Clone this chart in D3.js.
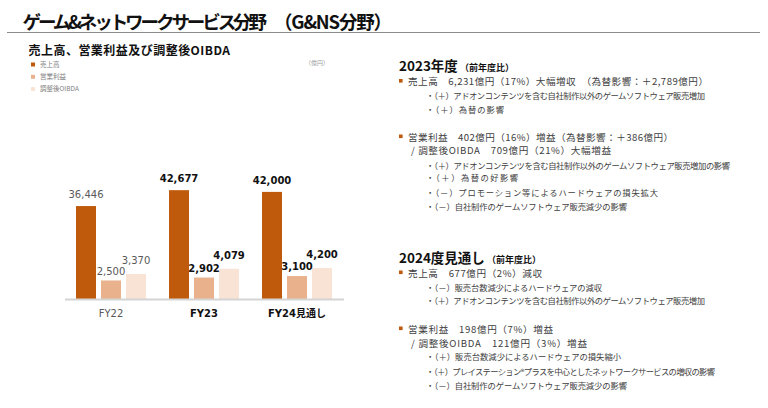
<!DOCTYPE html>
<html><head><meta charset="utf-8">
<script src="https://cdn.jsdelivr.net/npm/d3@7"></script>
<style>
body{margin:0;background:#fff}
svg{display:block}
text{font-family:"Noto Sans CJK JP","Noto Sans",sans-serif}
</style>
</head><body>
<svg width="768" height="408"></svg>
<script>
// ---------- data ----------
const categories = ["FY22", "FY23", "FY24見通し"];
const seriesNames = ["売上高", "営業利益", "調整後OIBDA"];
const revenue = [36446, 42677, 42000];
const opIncome = [2500, 2902, 3100];
const oibda = [3370, 4079, 4200];
const unitLabel = "（億円）";
const titleParts = ["ゲーム&ネットワークサービス分野", "（G&NS分野）"];
const subtitleText = "売上高、営業利益及び調整後OIBDA";
const head2023 = ["2023年度", "（前年度比）"];
const head2024 = ["2024度見通し", "（前年度比）"];
const lines2023 = [
  {t:"main", s:"売上高　6,231億円（17%）大幅増収　（為替影響：＋2,789億円）", end:708},
  {t:"sub", s:"・（＋）アドオンコンテンツを含む自社制作以外のゲームソフトウェア販売増加", end:705},
  {t:"sub", s:"・（＋）為替の影響", end:504},
  {t:"main", s:"営業利益　402億円（16%）増益（為替影響：＋386億円）", end:673},
  {t:"slash", s:"/ 調整後OIBDA　709億円（21%）大幅増益", end:611},
  {t:"sub", s:"・（＋）アドオンコンテンツを含む自社制作以外のゲームソフトウェア販売増加の影響", end:730},
  {t:"sub", s:"・（＋）為替の好影響", end:518},
  {t:"sub", s:"・（－）プロモーション等によるハードウェアの損失拡大", end:658},
  {t:"sub", s:"・（－）自社制作のゲームソフトウェア販売減少の影響", end:627}
];
const lines2024 = [
  {t:"main", s:"売上高　677億円（2%）減収", end:542},
  {t:"sub", s:"・（－）販売台数減少によるハードウェアの減収", end:602},
  {t:"sub", s:"・（＋）アドオンコンテンツを含む自社制作以外のゲームソフトウェア販売増加", end:705},
  {t:"main", s:"営業利益　198億円（7%）増益", end:553},
  {t:"slash", s:"/ 調整後OIBDA　121億円（3%）増益", end:587},
  {t:"sub", s:"・（＋）販売台数減少によるハードウェアの損失縮小", end:621},
  {t:"sub", s:"・（＋）プレイステーション®プラスを中心としたネットワークサービスの増収の影響", end:715},
  {t:"sub", s:"・（－）自社制作のゲームソフトウェア販売減少の影響", end:627}
];
const baselines2023 = [85, 98.5, 113, 140.5, 153.5, 168.5, 181, 196, 209.5];
const baselines2024 = [276.5, 291, 304, 332.5, 346.5, 360, 375, 388.5];

const colors = ["#BF5A0C", "#E9B28D", "#F8E3D4"];

const svg = d3.select("svg");

function fit(sel, target) {
  sel.each(function () {
    const n = this.getNumberOfChars();
    const w = this.getComputedTextLength();
    const x0 = +this.getAttribute("x");
    const ls = (target - x0 - w) / Math.max(1, n - 1);
    d3.select(this).style("letter-spacing", ls + "px");
  });
}

// ---------- title ----------
svg.append("text").attr("x", 22.5).attr("y", 29)
  .attr("font-size", 18.5).attr("font-weight", 700).attr("fill", "#111")
  .text(titleParts[0]).call(fit, 267);
svg.append("text").attr("x", 274).attr("y", 29)
  .attr("font-size", 18.5).attr("font-weight", 700).attr("fill", "#111")
  .text(titleParts[1]).call(fit, 392);
svg.append("line").attr("x1", 7).attr("x2", 760).attr("y1", 32.5).attr("y2", 32.5)
  .attr("stroke", "#8c8c8c").attr("stroke-width", 1.2);

svg.append("text").attr("x", 28.5).attr("y", 55)
  .attr("font-size", 12).attr("font-weight", 700).attr("fill", "#111")
  .text(subtitleText).call(fit, 230);

// ---------- legend ----------
const legend = svg.append("g");
seriesNames.forEach((name, i) => {
  const cy = 64.5 + i * 12.3;
  legend.append("rect").attr("x", 31).attr("y", cy - 2).attr("width", 4).attr("height", 4).attr("fill", colors[i]);
  legend.append("text").attr("x", 40).attr("y", cy + 2.3).attr("font-size", 6.5)
    .attr("fill", "#808080").text(name);
});
svg.append("text").attr("x", 305).attr("y", 65).attr("font-size", 6).attr("fill", "#9a9a9a").text(unitLabel);

// ---------- chart ----------
const baseY = 299;
const x = d3.scaleBand().domain(categories).range([64.5, 343.5]).paddingInner(0).paddingOuter(0);
const xi = d3.scaleBand().domain(seriesNames).range([-35, 35]).paddingInner(0.2).paddingOuter(0);
const yRev = d3.scaleLinear().domain([0, 50000]).range([baseY, baseY - 127.5]);
const ySmall = d3.scaleLinear().domain([0, 5000]).range([baseY, baseY - 37]);

const data = categories.map((c, i) => ({
  cat: c, i,
  vals: [
    {s: seriesNames[0], v: revenue[i], y: yRev, off: 8},
    {s: seriesNames[1], v: opIncome[i], y: ySmall, off: 6},
    {s: seriesNames[2], v: oibda[i], y: ySmall, off: 10}
  ]
}));
const fmt = d3.format(",");

const groups = svg.append("g").selectAll("g").data(data).join("g")
  .attr("transform", d => `translate(${x(d.cat) + x.bandwidth() / 2},0)`);
groups.selectAll("rect").data(d => d.vals).join("rect")
  .attr("x", d => xi(d.s)).attr("width", xi.bandwidth())
  .attr("y", d => d.y(d.v)).attr("height", d => baseY - d.y(d.v))
  .attr("fill", (d, j) => colors[j]);
groups.each(function (g) {
  d3.select(this).selectAll("text.val").data(g.vals).join("text").attr("class", "val")
    .attr("x", d => xi(d.s) + xi.bandwidth() / 2)
    .attr("y", d => d.y(d.v) - d.off)
    .attr("text-anchor", "middle")
    .style("font-family", "'DejaVu Sans', sans-serif")
    .attr("font-size", 10)
    .attr("font-weight", g.i === 0 ? 400 : 700)
    .attr("fill", g.i === 0 ? "#595959" : "#111")
    .text(d => fmt(d.v));
});

const xAxis = svg.append("g").attr("transform", `translate(0,${baseY})`)
  .call(d3.axisBottom(x).tickSize(0).tickPadding(11));
xAxis.select(".domain").attr("stroke", "#d4d4d4").attr("stroke-width", 2);
xAxis.selectAll(".tick text")
  .style("font-family", "'DejaVu Sans','Noto Sans CJK JP',sans-serif")
  .attr("font-size", 10)
  .attr("font-weight", (d, i) => i === 0 ? 400 : 700)
  .attr("fill", (d, i) => i === 0 ? "#595959" : "#111");

// ---------- right text ----------
function heading(txt, y) {
  const t = svg.append("text").attr("x", 399).attr("y", y).attr("fill", "#111").attr("font-weight", 700);
  t.append("tspan").attr("font-size", 13.5).text(txt[0]);
  t.append("tspan").attr("font-size", 9).attr("dx", 2).text(txt[1]);
}
function block(lines, ys) {
  lines.forEach((l, i) => {
    const y = ys[i];
    if (l.t === "main") {
      svg.append("rect").attr("x", 399).attr("y", y - 6).attr("width", 3.6).attr("height", 3.6).attr("fill", colors[0]);
    }
    const x0 = l.t === "main" ? 408 : l.t === "slash" ? 411 : 426;
    svg.append("text").attr("x", x0).attr("y", y)
      .attr("font-size", l.t === "sub" ? 8.3 : 9.6)
      .attr("fill", "#404040")
      .text(l.s).call(fit, l.end);
  });
}
heading(head2023, 70.5);
block(lines2023, baselines2023);
heading(head2024, 262.5);
block(lines2024, baselines2024);
</script>
</body></html>
